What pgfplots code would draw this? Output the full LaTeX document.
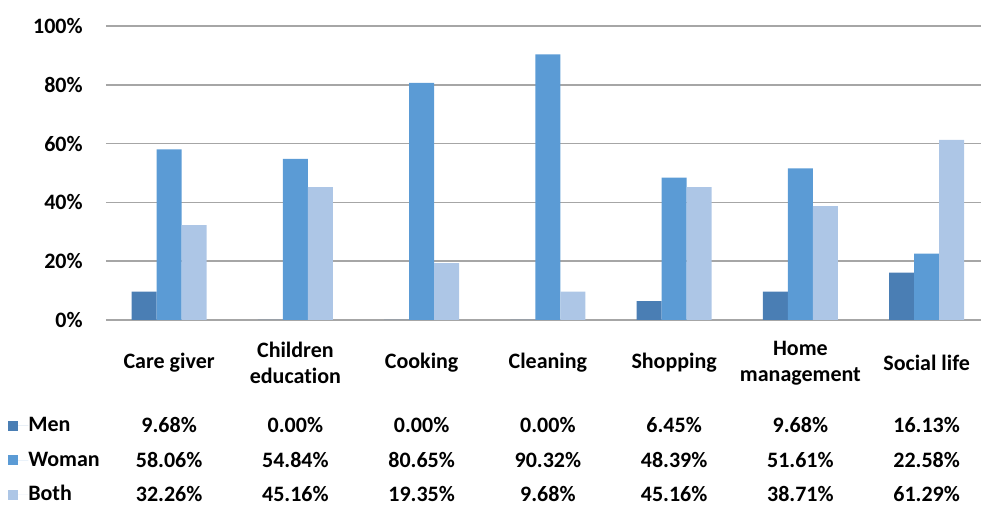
\documentclass[border=0pt]{standalone}
\usepackage{pgfplots}
\pgfplotsset{compat=1.18}
\usepackage{fontspec}
\setmainfont{Carlito}[Ligatures={NoCommon}]
\definecolor{menc}{HTML}{4A7EB4}
\definecolor{womc}{HTML}{5B9BD5}
\definecolor{bothc}{HTML}{ADC6E6}
\definecolor{gridc}{HTML}{A6A6A6}
\newcommand{\ff}{\bfseries\fontsize{11}{13}\selectfont}
\begin{document}
\begin{tikzpicture}
\useasboundingbox (-53pt,-93pt) rectangle (437.5pt,160pt);
\begin{axis}[
  at={(0,0)}, anchor=south west,
  scale only axis, width=441.9pt, height=147pt,
  xmin=-0.5, xmax=6.5, ymin=0, ymax=100,
  ybar=0pt, bar width=12.5pt,
  axis line style={draw=none},
  xtick=\empty,
  ytick={0,20,40,60,80,100},
  yticklabels={0\%,20\%,40\%,60\%,80\%,100\%},
  yticklabel style={font=\ff, anchor=east, inner sep=0pt},
  yticklabel shift=11.5pt,
  major tick length=0pt,
  ymajorgrids, grid style={gridc, line width=0.75pt},
  clip=false,
  legend style={draw=none, fill=none, at={(axis description cs:-0.111,-0.325)}, anchor=north west,
    inner sep=0pt, row sep=7.25pt, font=\ff,
    nodes={inner sep=0pt, text height=8pt, text depth=2pt}},
  legend cell align=left,
  legend image code/.code={\fill[#1,draw=none] (0pt,-2.5pt) rectangle (5pt,2.5pt); \path (0pt,0pt) -- (10pt,0pt);},
]
\addplot[fill=menc, draw=none] coordinates {(0,9.68) (1,0) (2,0) (3,0) (4,6.45) (5,9.68) (6,16.13)};
\addplot[fill=womc, draw=none] coordinates {(0,58.06) (1,54.84) (2,80.65) (3,90.32) (4,48.39) (5,51.61) (6,22.58)};
\addplot[fill=bothc, draw=none] coordinates {(0,32.26) (1,45.16) (2,19.35) (3,9.68) (4,45.16) (5,38.71) (6,61.29)};
\legend{Men,Woman,Both}
% category labels
\node[font=\ff, align=center, yshift=-21.5pt] at (axis cs:0,0) {Care giver};
\node[font=\ff, align=center, yshift=-21.5pt] at (axis cs:1,0) {Children\\education};
\node[font=\ff, align=center, yshift=-21.5pt] at (axis cs:2,0) {Cooking};
\node[font=\ff, align=center, yshift=-21.5pt] at (axis cs:3,0) {Cleaning};
\node[font=\ff, align=center, yshift=-21.5pt] at (axis cs:4,0) {Shopping};
\node[font=\ff, align=center, yshift=-21.5pt] at (axis cs:5,0) {Home\\management};
\node[font=\ff, align=center, yshift=-21.5pt] at (axis cs:6,0) {Social life};
% table rows
\node[font=\ff, yshift=-52.5pt] at (axis cs:0,0) {9.68\%};
\node[font=\ff, yshift=-52.5pt] at (axis cs:1,0) {0.00\%};
\node[font=\ff, yshift=-52.5pt] at (axis cs:2,0) {0.00\%};
\node[font=\ff, yshift=-52.5pt] at (axis cs:3,0) {0.00\%};
\node[font=\ff, yshift=-52.5pt] at (axis cs:4,0) {6.45\%};
\node[font=\ff, yshift=-52.5pt] at (axis cs:5,0) {9.68\%};
\node[font=\ff, yshift=-52.5pt] at (axis cs:6,0) {16.13\%};
\node[font=\ff, yshift=-70pt] at (axis cs:0,0) {58.06\%};
\node[font=\ff, yshift=-70pt] at (axis cs:1,0) {54.84\%};
\node[font=\ff, yshift=-70pt] at (axis cs:2,0) {80.65\%};
\node[font=\ff, yshift=-70pt] at (axis cs:3,0) {90.32\%};
\node[font=\ff, yshift=-70pt] at (axis cs:4,0) {48.39\%};
\node[font=\ff, yshift=-70pt] at (axis cs:5,0) {51.61\%};
\node[font=\ff, yshift=-70pt] at (axis cs:6,0) {22.58\%};
\node[font=\ff, yshift=-87pt] at (axis cs:0,0) {32.26\%};
\node[font=\ff, yshift=-87pt] at (axis cs:1,0) {45.16\%};
\node[font=\ff, yshift=-87pt] at (axis cs:2,0) {19.35\%};
\node[font=\ff, yshift=-87pt] at (axis cs:3,0) {9.68\%};
\node[font=\ff, yshift=-87pt] at (axis cs:4,0) {45.16\%};
\node[font=\ff, yshift=-87pt] at (axis cs:5,0) {38.71\%};
\node[font=\ff, yshift=-87pt] at (axis cs:6,0) {61.29\%};
\end{axis}
\end{tikzpicture}
\end{document}
